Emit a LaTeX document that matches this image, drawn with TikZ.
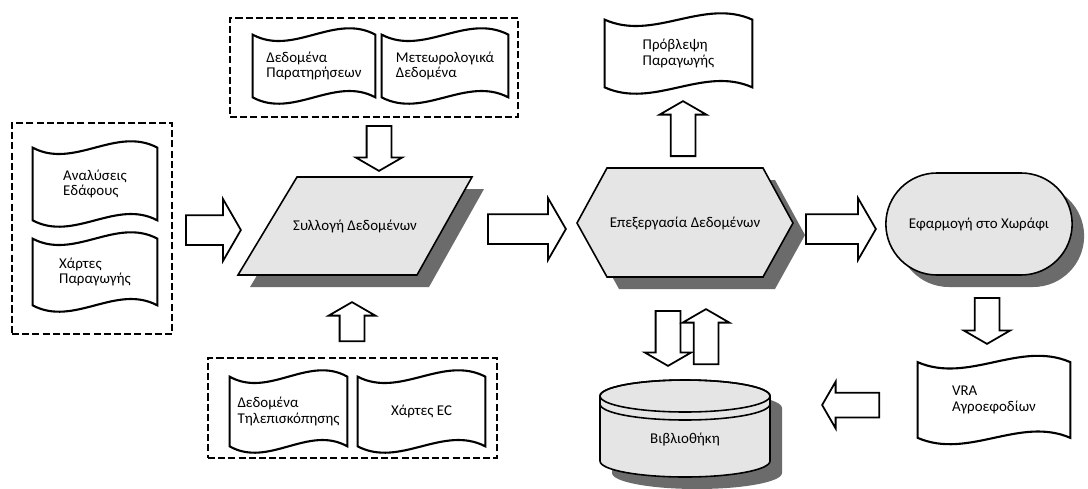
\documentclass[tikz,border=0pt]{standalone}
\usepackage{fontspec}
\setmainfont{Carlito}
\usetikzlibrary{shapes.arrows,shapes.misc,shadows}

\tikzset{
  every node/.style={font=\fontsize{8.5}{9}\selectfont},
  group/.style 2 args={draw, line width=1.6pt, dash pattern=on 4pt off 1.8pt,
    minimum width=#1, minimum height=#2, inner sep=0pt},
  doc/.style 2 args={inner sep=0pt, align=left, minimum width=#1, minimum height=#2,
    append after command={\pgfextra{\begin{pgfinterruptpath}
      \draw[line width=1.2pt] (\tikzlastnode.north west)
        .. controls +(#1/3,-4.4mm) and +(-#1/3,4.4mm) .. (\tikzlastnode.north east)
        -- (\tikzlastnode.south east)
        .. controls +(-#1/3,4.4mm) and +(#1/3,-4.4mm) .. (\tikzlastnode.south west)
        -- cycle;
    \end{pgfinterruptpath}}}},
  proc/.style={draw, line width=0.9pt, fill=black!10,
    drop shadow={shadow xshift=2.4mm, shadow yshift=-2.4mm, fill=black!58, opacity=1}},
  bigarrow/.style={single arrow, draw, line width=1pt, fill=white, inner sep=0pt,
    inner ysep=2.8mm, single arrow head extend=3.2mm, single arrow tip angle=120,
    anchor=tail, minimum height=#1},
  smallarrow/.style={single arrow, draw, line width=1pt, fill=white, inner sep=0pt,
    inner ysep=2.3mm, single arrow head extend=2.2mm, single arrow tip angle=120,
    anchor=tail, minimum height=#1}
}

\begin{document}
\begin{tikzpicture}[x=0.2mm, y=0.2mm]
  \useasboundingbox (0,0) rectangle (1088,-488);
  % inputs on the left
  \node[group={32mm}{42.2mm}] (gleft) at (92,-228.5) {};
  \node[doc={24.8mm}{14.4mm}] (soil) at (95,-184) {Αναλύσεις\\Εδάφους};
  \node[doc={24.8mm}{13.2mm}] (yield) at (95,-272) {Χάρτες\\Παραγωγής};
  % inputs on top
  \node[group={57.6mm}{19.8mm}] (gtop) at (374,-67.5) {};
  \node[doc={24.4mm}{12.4mm}] (obs) at (314,-66) {Δεδομένα\\Παρατηρήσεων};
  \node[doc={25.2mm}{12.4mm}] (meteo) at (445,-66) {Μετεωρολογικά\\Δεδομένα};
  % inputs below
  \node[group={57.8mm}{20mm}] (gbot) at (352.5,-408) {};
  \node[doc={23.4mm}{13.8mm}] (remote) at (288.5,-411.5) {Δεδομένα\\Τηλεπισκόπησης};
  \node[doc={25.4mm}{13.8mm}] (ec) at (421.5,-411.5) {Χάρτες EC};
  % collection
  \draw[proc] (297,-177) -- (472,-177) -- (417,-275) -- (238,-275) -- cycle;
  \node (par) at (355,-226) {Συλλογή Δεδομένων};
  % processing
  \draw[proc] (577,-223) -- (607,-168) -- (763,-168) -- (793,-223) -- (763,-277) -- (607,-277) -- cycle;
  \node (hex) at (685,-223) {Επεξεργασία Δεδομένων};
  % field
  \node[proc, rounded rectangle, minimum width=39.6mm, minimum height=20.4mm] (field) at (979,-224) {Εφαρμογή στο Χωράφι};
  % library
  \draw[proc] (600,-396) -- (600,-461) arc[start angle=180, end angle=360, x radius=85, y radius=16]
    -- (770,-396) arc[start angle=0, end angle=180, x radius=85, y radius=16] -- cycle;
  \draw[line width=0.9pt] (685,-396) ellipse [x radius=85, y radius=16];
  \draw[line width=0.9pt] (600,-404) arc[start angle=180, end angle=360, x radius=85, y radius=16];
  \node (lib) at (685,-440) {Βιβλιοθήκη};
  % outputs
  \node[doc={29.4mm}{13.4mm}] (forecast) at (678.5,-53.5) {Πρόβλεψη\\Παραγωγής};
  \node[doc={30.4mm}{15mm}] (vra) at (994,-400) {VRA\\Αγροεφοδίων};
  % block arrows
  \node[bigarrow=11mm] (a1) at (185,-230) {};
  \node[smallarrow=9mm, rotate=-90] (a2) at (379,-125) {};
  \node[smallarrow=7.8mm, rotate=90] (a3) at (352,-342) {};
  \node[bigarrow=15.6mm] (a4) at (487,-229) {};
  \node[smallarrow=11mm, rotate=90] (a5) at (683,-157) {};
  \node[smallarrow=11mm, rotate=-90] (a6) at (668,-310) {};
  \node[smallarrow=11mm, rotate=90] (a7) at (706,-365) {};
  \node[bigarrow=14mm] (a8) at (805,-229) {};
  \node[smallarrow=9.2mm, rotate=-90] (a9) at (987,-297) {};
  \node[smallarrow=11.4mm, rotate=180] (a10) at (880,-405) {};
\end{tikzpicture}
\end{document}
